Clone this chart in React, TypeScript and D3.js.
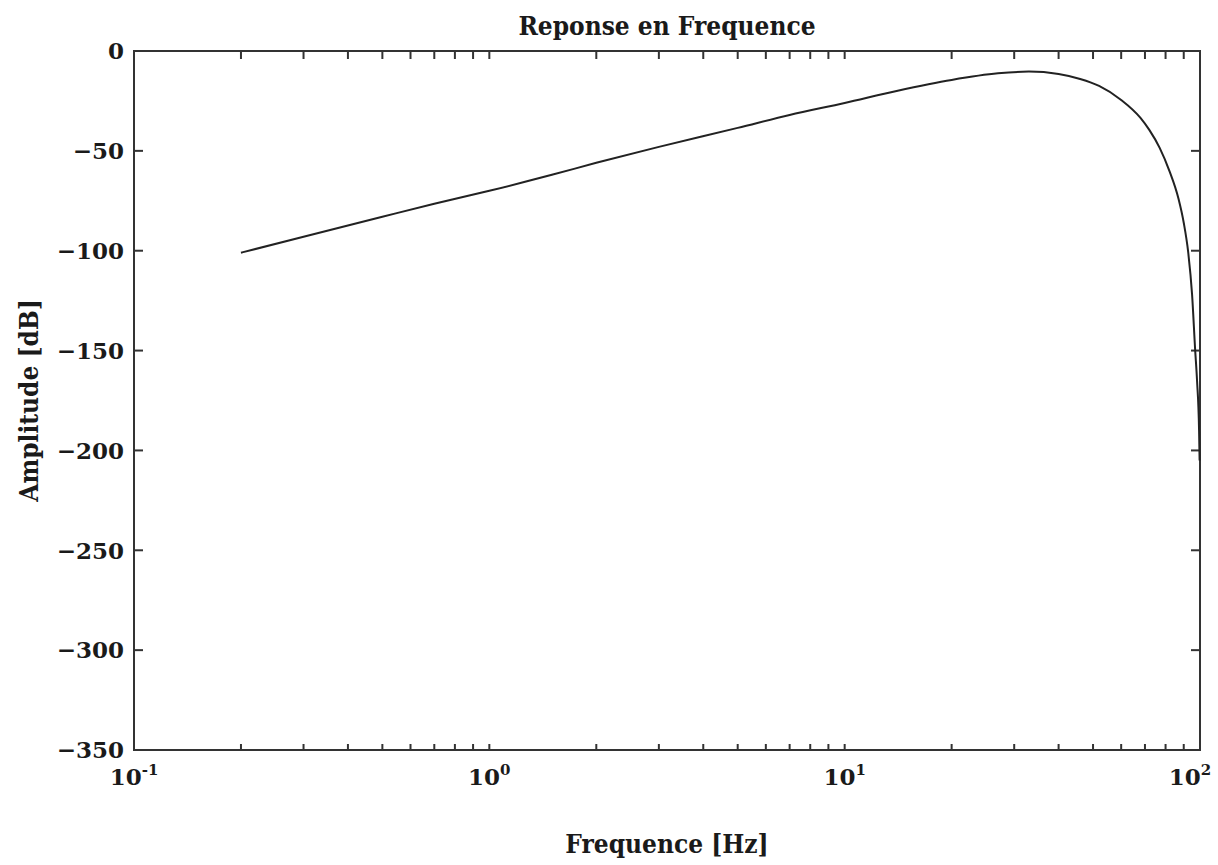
import React from "react";
import * as d3 from "d3";

const freqHz = [0.2, 0.3, 0.5, 0.7, 1, 1.5, 2, 3, 5, 7, 10, 14, 20, 27, 33, 40, 46, 52, 60, 68, 72, 77, 82, 87, 90, 92.6, 95, 96.9, 98.1, 99.4, 99.75];
const ampDb = [-101, -93, -83, -76.5, -70, -62, -56, -48, -38.5, -32, -26, -20, -14.5, -11.2, -10.3, -11.5, -14, -17.5, -24.5, -33.5, -39.5, -48.5, -60, -74, -86, -100.5, -122, -149.5, -165, -190, -205];
const yTicks = [0, -50, -100, -150, -200, -250, -300, -350];
const xDecades = [-1, 0, 1, 2];

const W = 1218, H = 865;
const L = 134, R = 1200, T = 51, B = 750;
const FONT = "'DejaVu Serif', serif";

export default function App() {
  const x = d3.scaleLog().domain([0.1, 100]).range([L, R]);
  const y = d3.scaleLinear().domain([-350, 0]).range([B, T]);
  const pts = freqHz.map((f, i) => [f, ampDb[i]] as [number, number]);
  const line = d3.line<[number, number]>().x(d => x(d[0])).y(d => y(d[1])).curve(d3.curveMonotoneX);
  const minor: number[] = [];
  for (let e = -1; e < 2; e++) for (let k = 1; k <= 9; k++) minor.push(k * Math.pow(10, e));
  minor.push(100);
  const fmt = (v: number) => (v < 0 ? "\u2212" + Math.abs(v) : String(v));
  const labelStyle = { fontStretch: "condensed" as const };
  return (
    <svg width={W} height={H} style={{ position: "absolute", left: 0, top: 0, background: "#fff" }} fontFamily={FONT} fontWeight="bold">
      <text x={(L + R) / 2} y={35} textAnchor="middle" fontSize={26} fill="#1a1a1a" style={labelStyle}>Reponse en Frequence</text>
      <rect x={L} y={T} width={R - L} height={B - T} fill="none" stroke="#333" strokeWidth={2} />
      {minor.map((m, i) => (
        <g key={"m" + i} stroke="#333" strokeWidth={2}>
          <line x1={x(m)} x2={x(m)} y1={T} y2={T + 8} />
          <line x1={x(m)} x2={x(m)} y1={B} y2={B - 6} />
        </g>
      ))}
      {yTicks.map(v => (
        <g key={"y" + v}>
          <line x1={L} x2={L + 9} y1={y(v)} y2={y(v)} stroke="#333" strokeWidth={2} />
          <line x1={R} x2={R - 9} y1={y(v)} y2={y(v)} stroke="#333" strokeWidth={2} />
          <text x={124} y={y(v)} dy="0.36em" textAnchor="end" fontSize={23} fill="#1a1a1a">{fmt(v)}</text>
        </g>
      ))}
      {xDecades.map(e => (
        <text key={"x" + e} x={x(Math.pow(10, e)) - (e === 2 ? 10 : 0)} y={785} textAnchor="middle" fontSize={23} fill="#1a1a1a">
          10<tspan dy={-10} fontSize={15}>{e < 0 ? "-" + Math.abs(e) : String(e)}</tspan>
        </text>
      ))}
      <path d={line(pts) || ""} fill="none" stroke="#222" strokeWidth={2} />
      <text x={(L + R) / 2} y={853} textAnchor="middle" fontSize={26} fill="#1a1a1a" style={labelStyle}>Frequence [Hz]</text>
      <text transform={`translate(38,${(T + B) / 2}) rotate(-90)`} textAnchor="middle" fontSize={26} fill="#1a1a1a" style={labelStyle}>Amplitude [dB]</text>
    </svg>
  );
}
